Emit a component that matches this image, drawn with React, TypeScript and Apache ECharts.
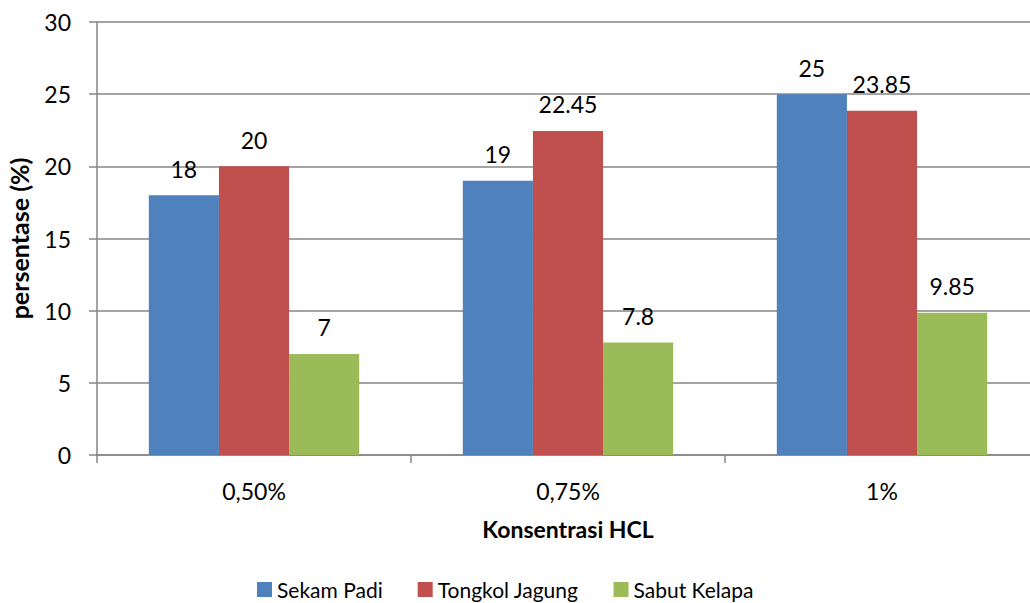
import React, { useEffect, useRef } from "react";
import * as echarts from "echarts";

const categories = ["0,50%", "0,75%", "1%"];
const sekamPadi = [18, 19, 25];
const tongkolJagung = [20, 22.45, 23.85];
const sabutKelapa = [7, 7.8, 9.85];
const seriesNames = ["Sekam Padi", "Tongkol Jagung", "Sabut Kelapa"];
const colors = ["#4F81BD", "#C0504D", "#9BBB59"];

const FONT = "Lato, 'Open Sans', sans-serif";

export default function App() {
  const ref = useRef<HTMLDivElement>(null);
  useEffect(() => {
    if (!ref.current) return;
    const chart = echarts.init(ref.current, undefined, { renderer: "svg" });
    const data = [sekamPadi, tongkolJagung, sabutKelapa];
    chart.setOption({
      animation: false,
      textStyle: { fontFamily: FONT },
      grid: { left: 97, right: 0, top: 22, bottom: 148, outerBoundsMode: "none", containLabel: false },
      legend: {
        top: 579,
        left: 257,
        padding: 0,
        itemWidth: 15,
        itemHeight: 15,
        itemGap: 35,
        icon: "rect",
        textStyle: { fontSize: 21, color: "#000", fontFamily: FONT },
        data: seriesNames,
      },
      xAxis: {
        type: "category",
        data: categories,
        name: "Konsentrasi HCL",
        nameLocation: "middle",
        nameGap: 62,
        nameTextStyle: { fontSize: 23, fontWeight: "bold", color: "#000", fontFamily: FONT },
        axisLine: { lineStyle: { color: "#868686", width: 1.5 } },
        axisTick: { show: true, length: 8, lineStyle: { color: "#868686", width: 1.5 } },
        axisLabel: { fontSize: 23, color: "#000", margin: 24, fontFamily: FONT },
      },
      yAxis: {
        type: "value",
        min: 0,
        max: 30,
        interval: 5,
        name: "persentase (%)",
        nameLocation: "middle",
        nameGap: 66,
        nameTextStyle: { fontSize: 25, fontWeight: "bold", color: "#000", fontFamily: FONT },
        axisLine: { show: true, lineStyle: { color: "#868686", width: 1.5 } },
        axisTick: { show: true, length: 8, lineStyle: { color: "#868686", width: 1.5 } },
        axisLabel: { fontSize: 23, color: "#000", margin: 26, fontFamily: FONT },
        splitLine: { lineStyle: { color: "#868686", width: 1.5 } },
      },
      series: seriesNames.map((name, i) => ({
        name,
        type: "bar",
        data: data[i],
        barGap: "0%",
        barCategoryGap: "33%",
        itemStyle: { color: colors[i] },
        label: {
          show: true,
          position: "top",
          distance: 15,
          fontSize: 23,
          color: "#000",
          fontFamily: FONT,
        },
      })),
    });
    return () => chart.dispose();
  }, []);
  return (
    <div style={{ position: "fixed", left: 0, top: 0, width: 1030, height: 603, background: "#fff", overflow: "hidden" }}>
      <div ref={ref} style={{ width: 1039, height: 603 }} />
    </div>
  );
}
